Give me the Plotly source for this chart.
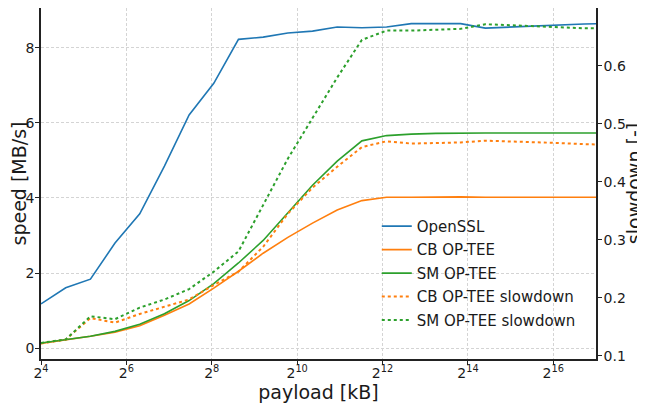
import plotly.graph_objects as go
import math

# payload sizes in kB (approximately geometric, read from line kinks)
payload_kb = [16, 23.9, 35.7, 53.2, 79.5, 118.7, 177.2, 264.5, 394.9, 589.6, 880.3,
              1314, 1962, 2930, 4374, 6531, 9750, 14557, 21734, 32449, 48446,
              72330, 107989, 161228]

openssl = [1.18, 1.61, 1.84, 2.8, 3.58, 4.85, 6.21, 7.05, 8.22, 8.28, 8.39, 8.44,
           8.55, 8.53, 8.55, 8.64, 8.64, 8.64, 8.52, 8.55, 8.58, 8.60, 8.63, 8.64]
cb_optee = [0.13, 0.22, 0.32, 0.43, 0.60, 0.88, 1.18, 1.6, 2.05, 2.53, 2.95, 3.33,
            3.68, 3.93, 4.02, 4.02, 4.03, 4.03, 4.02, 4.02, 4.02, 4.02, 4.02, 4.02]
sm_optee = [0.14, 0.22, 0.32, 0.45, 0.64, 0.92, 1.27, 1.72, 2.27, 2.87, 3.62, 4.34,
            4.98, 5.52, 5.66, 5.70, 5.72, 5.73, 5.73, 5.73, 5.73, 5.73, 5.73, 5.73]
cb_slowdown = [0.121, 0.128, 0.165, 0.157, 0.172, 0.184, 0.197, 0.222, 0.245, 0.288,
               0.345, 0.39, 0.426, 0.46, 0.47, 0.466, 0.467, 0.468, 0.471, 0.470,
               0.468, 0.467, 0.465, 0.464]
sm_slowdown = [0.122, 0.128, 0.168, 0.163, 0.183, 0.197, 0.215, 0.245, 0.28, 0.36,
               0.44, 0.51, 0.58, 0.645, 0.661, 0.661, 0.662, 0.664, 0.672, 0.670,
               0.668, 0.667, 0.665, 0.665]

x_tick_exps = [4, 6, 8, 10, 12, 14, 16]
x_tick_vals = [2 ** e for e in x_tick_exps]
x_tick_text = ["2<sup>%d</sup>" % e for e in x_tick_exps]
y_left_ticks = [0, 2, 4, 6, 8]
y_right_ticks = [0.1, 0.2, 0.3, 0.4, 0.5, 0.6]

BLUE, ORANGE, GREEN = "#1f77b4", "#ff7f0e", "#2ca02c"
FONT = "DejaVu Sans"
TXT = "#1a1a1a"

fig = go.Figure()
fig.add_trace(go.Scatter(x=payload_kb, y=openssl, mode="lines", name="OpenSSL",
                         line=dict(color=BLUE, width=1.6), legendgroup="a"))
fig.add_trace(go.Scatter(x=payload_kb, y=cb_optee, mode="lines", name="CB OP-TEE",
                         line=dict(color=ORANGE, width=1.6), legendgroup="b"))
fig.add_trace(go.Scatter(x=payload_kb, y=sm_optee, mode="lines", name="SM OP-TEE",
                         line=dict(color=GREEN, width=1.6), legendgroup="c"))
fig.add_trace(go.Scatter(x=payload_kb, y=cb_slowdown, mode="lines", name="CB OP-TEE slowdown",
                         line=dict(color=ORANGE, width=2, dash="dot"), yaxis="y2", legendgroup="d"))
fig.add_trace(go.Scatter(x=payload_kb, y=sm_slowdown, mode="lines", name="SM OP-TEE slowdown",
                         line=dict(color=GREEN, width=2, dash="dot"), yaxis="y2", legendgroup="e"))

axis_common = dict(showline=True, linecolor="#222222", linewidth=1.5,
                   ticks="outside", ticklen=4, tickwidth=1, tickcolor="#222222",
                   tickfont=dict(family=FONT, size=14, color=TXT), zeroline=False,
                   automargin=False)
grid = dict(showgrid=True, gridcolor="#d4d4d4", griddash="3px,2px", gridwidth=0.8)

# the page body adds an 8px offset; figure is sized to compensate
fig.update_layout(
    width=637, height=395,
    margin=dict(l=33, r=49, t=0, b=44),
    paper_bgcolor="white", plot_bgcolor="white",
    font=dict(family=FONT, color=TXT),
    xaxis=dict(type="log", range=[math.log10(16), math.log10(131072)],
               tickvals=x_tick_vals, ticktext=x_tick_text, mirror=True,
               ticklabelstandoff=-4,
               title=dict(text="payload [kB]", font=dict(family=FONT, size=19), standoff=7),
               **grid, **axis_common),
    yaxis=dict(range=[-0.285, 9.055], tickvals=y_left_ticks, mirror=True,
               ticklabelstandoff=-2,
               title=dict(text="speed [MB/s]", font=dict(family=FONT, size=19), standoff=5),
               **grid, **axis_common),
    yaxis2=dict(overlaying="y", side="right", range=[0.0943, 0.700],
                tickvals=y_right_ticks, showgrid=False, ticklabelstandoff=-1,
                title=dict(text="slowdown [-]", font=dict(family=FONT, size=19), standoff=8),
                **axis_common),
    legend=dict(x=0.605, y=0.425, xanchor="left", yanchor="top",
                bgcolor="rgba(0,0,0,0)", borderwidth=0,
                font=dict(family=FONT, size=15, color=TXT),
                tracegroupgap=1, traceorder="grouped"),
    showlegend=True,
)

fig.write_html("out.html")
